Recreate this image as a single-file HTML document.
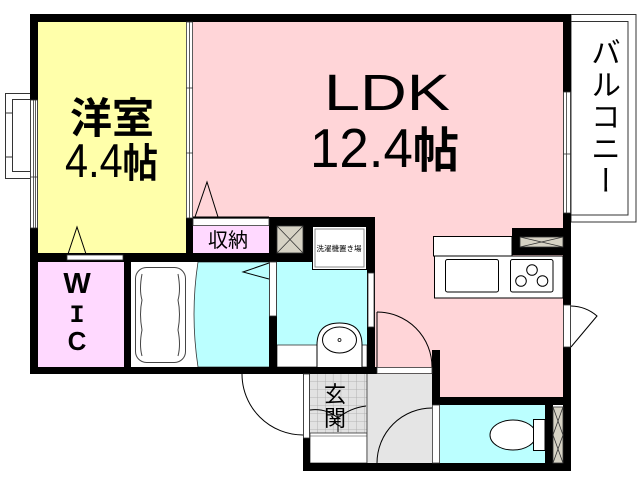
<!DOCTYPE html>
<html><head><meta charset="utf-8"><style>
html,body{margin:0;padding:0;background:#fff;}
.wrap{position:relative;width:640px;height:480px;overflow:hidden;}
svg{position:absolute;left:0;top:0;}
.bal{position:absolute;left:587px;top:37px;writing-mode:vertical-rl;font-family:"Liberation Sans","Noto Sans CJK JP",sans-serif;font-size:30px;line-height:30px;letter-spacing:2px;color:#000;}
</style></head><body><div class="wrap">
<svg width="640" height="480" viewBox="0 0 640 480" xmlns="http://www.w3.org/2000/svg">
<defs>
<pattern id="tile" x="310" y="374" width="7.8" height="8" patternUnits="userSpaceOnUse">
<rect width="7.8" height="8" fill="#e2e2e2"/>
<path d="M7.8 0V8M0 8H7.8" stroke="#a8a8a8" stroke-width="0.8"/>
</pattern>
</defs>
<rect width="640" height="480" fill="#fff"/>
<!-- rooms -->
<rect x="38" y="22" width="148" height="231" fill="#ffffaa"/>
<rect x="193" y="22" width="370" height="196" fill="#ffd5d8"/>
<rect x="375" y="217" width="188" height="180" fill="#ffd5d8"/>
<rect x="193" y="226" width="76" height="27" fill="#ffd9ff"/>
<rect x="38" y="262" width="86" height="105" fill="#ffd9ff"/>
<rect x="131" y="262" width="65" height="105" fill="#fff"/>
<path d="M198 262 Q190 314 198 367 L270 367 L270 262 Z" fill="#bbffff" stroke="#333" stroke-width="0.8"/>
<rect x="277" y="262" width="90" height="83" fill="#bbffff"/>
<rect x="277" y="345" width="90" height="22" fill="#fff" stroke="#333" stroke-width="0.8"/>
<rect x="310" y="374" width="57" height="59" fill="url(#tile)"/>
<rect x="310" y="433" width="57" height="30" fill="#fff" stroke="#333" stroke-width="0.8"/>
<line x1="310" y1="436" x2="367" y2="436" stroke="#333" stroke-width="0.6"/>
<rect x="367" y="374" width="65" height="89" fill="#e5e5e5"/>
<line x1="367" y1="374" x2="367" y2="463" stroke="#333" stroke-width="0.8"/>
<rect x="440" y="405" width="105" height="58" fill="#bbffff"/>

<!-- left bay window -->
<g fill="none" stroke="#333" stroke-width="1">
<rect x="5.5" y="93.5" width="25" height="85"/>
<rect x="12.5" y="99.5" width="18" height="72"/>
<line x1="5" y1="113" x2="12" y2="113"/>
<line x1="5" y1="157" x2="12" y2="157"/>
</g>
<!-- balcony -->
<g fill="none" stroke="#333" stroke-width="1">
<rect x="571" y="14.5" width="65" height="207.5"/>
<rect x="571" y="21.5" width="57" height="193.5"/>
</g>
<rect x="572" y="22" width="55.5" height="192.5" fill="#fff"/>

<!-- walls -->
<g fill="#000">
<rect x="30" y="14" width="541" height="8"/>
<rect x="30" y="14" width="8" height="360"/>
<rect x="563" y="14" width="8" height="457"/>
<rect x="30" y="367" width="347" height="7"/>
<rect x="124" y="253" width="7" height="121"/>
<rect x="30" y="253" width="282" height="9"/>
<rect x="186" y="218" width="7" height="44"/>
<rect x="269" y="217" width="8" height="157"/>
<rect x="269" y="217" width="106" height="9"/>
<rect x="193" y="216.5" width="76" height="1.5"/>
<rect x="303" y="226" width="9" height="36"/>
<rect x="367" y="217" width="8" height="157"/>
<rect x="432" y="350" width="8" height="55"/>
<rect x="432" y="397" width="139" height="8"/>
<rect x="303" y="374" width="7" height="97"/>
<rect x="303" y="463" width="268" height="8"/>
<rect x="545" y="405" width="8" height="58"/>
<rect x="512" y="228" width="51" height="27"/>
</g>

<!-- openings -->
<g stroke="#333" stroke-width="0.8">
<rect x="30.5" y="100" width="7" height="128" fill="#fff"/>
<line x1="33.5" y1="100" x2="33.5" y2="228"/>
<line x1="35.5" y1="100" x2="35.5" y2="228"/>
<line x1="30" y1="177" x2="38" y2="177"/>
<rect x="563.5" y="92" width="7" height="121" fill="#fff"/>
<line x1="566.5" y1="92" x2="566.5" y2="213"/>
<line x1="563" y1="154" x2="571" y2="154"/>
<rect x="563.5" y="305" width="7" height="42" fill="#fff"/>
<rect x="186.5" y="22" width="6" height="196" fill="#fff"/>
<line x1="189.5" y1="22" x2="189.5" y2="218"/>
<line x1="186" y1="88" x2="193" y2="88"/>
<line x1="186" y1="153" x2="193" y2="153"/>
<rect x="67" y="255" width="56" height="5" fill="#fff"/>
<rect x="193" y="218.5" width="76" height="7" fill="#fff"/>
<rect x="269.5" y="262" width="7" height="54" fill="#fff"/>
<rect x="368" y="273" width="6" height="54" fill="#fff"/>
<rect x="377" y="367.5" width="55" height="6" fill="#fff"/>
<rect x="303.5" y="374" width="6" height="64" fill="#fff"/>
<rect x="432.5" y="405" width="7" height="58" fill="#fff"/>
</g>

<!-- X boxes -->
<g stroke="#333" stroke-width="0.8">
<rect x="277" y="226" width="26" height="27" fill="#d6d2c4"/>
<path d="M277 226L303 253M303 226L277 253" fill="none"/>
<rect x="520" y="237" width="43" height="10" fill="#d6d2c4"/>
<path d="M520 237L563 247M563 237L520 247" fill="none"/>
<rect x="553" y="407" width="10" height="56" fill="#d6d2c4"/>
<path d="M553 407L563 435L553 463M563 407L553 435L563 463" fill="none"/>
</g>

<!-- washing machine -->
<rect x="312.5" y="226.5" width="54" height="43" fill="#fff" stroke="#000" stroke-width="1"/>
<rect x="315" y="229" width="49" height="38" fill="#fff" stroke="#888" stroke-width="1"/>

<!-- door swings / triangles -->
<g fill="none" stroke="#000" stroke-width="1">
<polyline points="68,254 77,227 86,254"/>
<polyline points="195,217 207,182 218,217"/>
<polyline points="269,263 243,272 269,279"/>
<line x1="377" y1="312" x2="377" y2="367"/>
<path d="M377 312 A55 55 0 0 1 432 367"/>
<path d="M377 463 A55 55 0 0 1 432 408"/>
<path d="M242 374 A61 61 0 0 0 303 435"/>
<path d="M571 306 A41 41 0 0 1 597 316 L571 347"/>
<path d="M310 410 Q326 408 338 418 Q350 408 366 406"/>
<line x1="338" y1="418" x2="338" y2="432"/>
</g>

<!-- bathtub -->
<g fill="#fff" stroke="#444" stroke-width="1">
<rect x="135.5" y="267.5" width="50" height="95" rx="11"/>
<path d="M142 274 Q139 290 142 300 Q139 314 142 330 Q139 345 142 356 M178 274 Q181 290 178 300 Q181 314 178 330 Q181 345 178 356" fill="none"/>
</g>

<!-- lavatory -->
<path d="M317 367 L317 345 Q317 323 339.5 323 Q362 323 362 345 L362 367" fill="#fff" stroke="#000" stroke-width="1"/>
<ellipse cx="339.5" cy="340" rx="17" ry="13" fill="#fff" stroke="#000" stroke-width="1"/>
<circle cx="339.5" cy="340" r="1.5" fill="none" stroke="#000" stroke-width="0.8"/>

<!-- kitchen -->
<g fill="#fff" stroke="#000" stroke-width="1">
<rect x="433.5" y="236.5" width="78.5" height="19.5"/>
<rect x="434.5" y="256" width="128.5" height="42"/>
<rect x="445.5" y="259.5" width="53" height="32.5" rx="2"/>
<rect x="510.5" y="259.5" width="42.5" height="32.5" rx="2"/>
<circle cx="532" cy="270" r="5.3"/>
<circle cx="521" cy="281" r="5.3"/>
<circle cx="542.5" cy="281" r="5.3"/>
</g>

<!-- toilet -->
<ellipse cx="513" cy="435" rx="23" ry="15" fill="#fff" stroke="#000" stroke-width="1"/>
<rect x="533.5" y="419.5" width="11.5" height="31" fill="#fff" stroke="#000" stroke-width="1"/>

<!-- texts -->
<g font-family="Liberation Sans, Noto Sans CJK JP, sans-serif" fill="#000">
<text x="112" y="133" font-size="42" font-weight="bold" text-anchor="middle" font-family="Noto Sans CJK JP, sans-serif">洋室</text>
<text x="65" y="177" textLength="93" lengthAdjust="spacingAndGlyphs"><tspan font-size="47">4.4</tspan><tspan font-size="40" font-weight="bold" font-family="Noto Sans CJK JP, sans-serif">帖</tspan></text>
<text x="324" y="110" font-size="51" textLength="126" lengthAdjust="spacingAndGlyphs">LDK</text>
<text x="310" y="167" textLength="149" lengthAdjust="spacingAndGlyphs"><tspan font-size="55">12.4</tspan><tspan font-size="48" font-weight="bold" font-family="Noto Sans CJK JP, sans-serif">帖</tspan></text>
<text x="228" y="247" font-size="20" text-anchor="middle" font-family="Noto Sans CJK JP, sans-serif">収納</text>
<text x="339" y="251" font-size="7.5" text-anchor="middle" font-family="Noto Sans CJK JP, sans-serif">洗濯機置き場</text>
<text x="335" y="402" font-size="22" text-anchor="middle" font-family="Noto Sans CJK JP, sans-serif">玄</text>
<text x="335" y="426" font-size="22" text-anchor="middle" font-family="Noto Sans CJK JP, sans-serif">関</text>
<text x="77" y="293" font-size="29" font-weight="bold" text-anchor="middle">W</text>
<text x="77" y="322" font-size="25" font-weight="bold" text-anchor="middle" font-family="Liberation Mono, monospace">I</text>
<text x="77" y="350" font-size="26" font-weight="bold" text-anchor="middle">C</text>
</g>
</svg>
<div class="bal">バルコニー</div>
</div></body></html>
